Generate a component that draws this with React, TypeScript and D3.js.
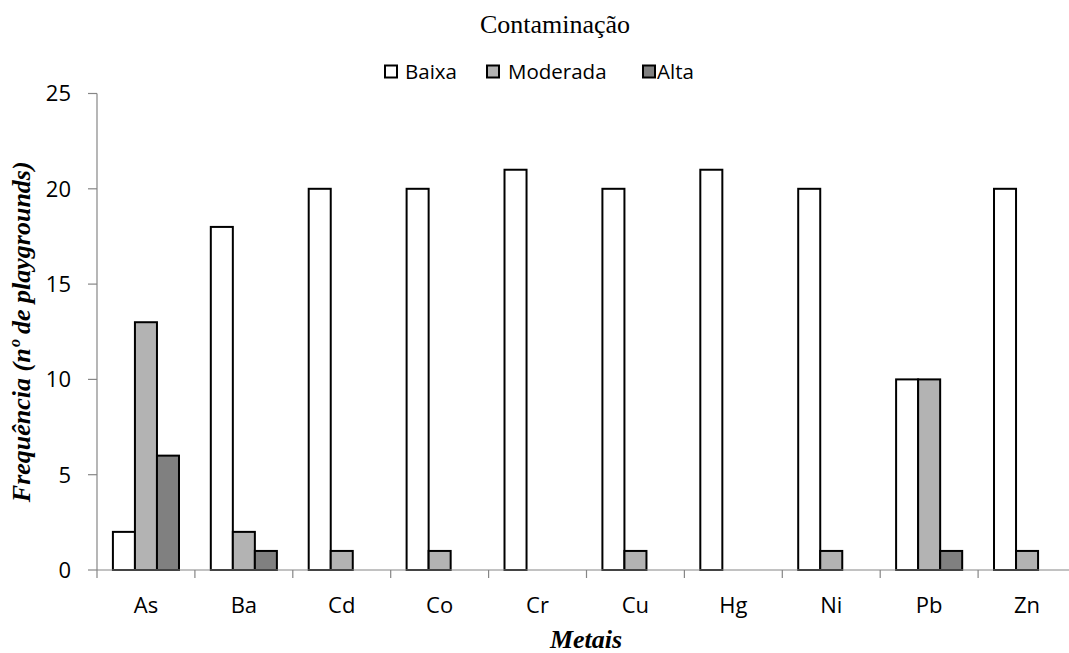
import React from "react";
import * as d3 from "d3";

const categories = ["As", "Ba", "Cd", "Co", "Cr", "Cu", "Hg", "Ni", "Pb", "Zn"];
const seriesNames = ["Baixa", "Moderada", "Alta"];
const baixa = [2, 18, 20, 20, 21, 20, 21, 20, 10, 20];
const moderada = [13, 2, 1, 1, 0, 1, 0, 1, 10, 1];
const alta = [6, 1, 0, 0, 0, 0, 0, 0, 1, 0];
const yTicks = [0, 5, 10, 15, 20, 25];
const colors = ["#ffffff", "#b3b3b3", "#808080"];

const W = 1069;
const H = 653;

export default function App() {
  const seriesValues = [baixa, moderada, alta];
  const x0 = d3.scaleBand<string>().domain(categories).range([97, 1076]).padding(0);
  const bw = x0.bandwidth();
  const groupW = bw * 0.675;
  const x1 = d3
    .scaleBand<string>()
    .domain(seriesNames)
    .range([(bw - groupW) / 2, (bw + groupW) / 2])
    .padding(0);
  const y = d3.scaleLinear().domain([0, 25]).range([570, 93.5]);
  const axisColor = "#868686";
  const sans = "'Open Sans', sans-serif";
  const serif = "'Liberation Serif', 'Times New Roman', serif";

  const legendBox = [385, 487, 643];
  const legendText = [405, 508, 657];

  return (
    <svg
      width={W}
      height={H}
      style={{ position: "absolute", left: 0, top: 0, background: "#fff" }}
    >
      <rect x={0} y={0} width={W} height={H} fill="#fff" />
      <text x={555} y={33} textAnchor="middle" fontFamily={serif} fontSize={26} fill="#000">
        Contaminação
      </text>
      {seriesNames.map((s, i) => (
        <g key={s}>
          <rect
            x={legendBox[i]}
            y={65.5}
            width={12}
            height={12}
            fill={colors[i]}
            stroke="#000"
            strokeWidth={2}
          />
          <text x={legendText[i]} y={79} fontFamily={sans} fontSize={20.5} fill="#000">
            {s}
          </text>
        </g>
      ))}
      {/* bars */}
      {categories.map((c, ci) => (
        <g key={c} transform={`translate(${x0(c)},0)`}>
          {seriesNames.map((s, si) => {
            const v = seriesValues[si][ci];
            if (!v) return null;
            return (
              <rect
                key={s}
                x={x1(s)}
                y={y(v)}
                width={x1.bandwidth()}
                height={y(0) - y(v)}
                fill={colors[si]}
                stroke="#000"
                strokeWidth={2}
              />
            );
          })}
        </g>
      ))}
      {/* y axis */}
      <line x1={97} x2={97} y1={y(25)} y2={y(0)} stroke={axisColor} strokeWidth={1.2} />
      {yTicks.map((t) => (
        <g key={t}>
          <line x1={88} x2={97} y1={y(t)} y2={y(t)} stroke={axisColor} strokeWidth={1.2} />
          <text
            x={71}
            y={y(t)}
            dy="0.36em"
            textAnchor="end"
            fontFamily={sans}
            fontSize={22}
            fill="#000"
          >
            {t}
          </text>
        </g>
      ))}
      {/* x axis */}
      <line x1={97} x2={1076} y1={y(0)} y2={y(0)} stroke={axisColor} strokeWidth={1.2} />
      {categories.map((c) => (
        <g key={c}>
          <line
            x1={x0(c)}
            x2={x0(c)}
            y1={y(0)}
            y2={y(0) + 8}
            stroke={axisColor}
            strokeWidth={1.2}
          />
          <text
            x={(x0(c) as number) + bw / 2}
            y={613}
            textAnchor="middle"
            fontFamily={sans}
            fontSize={22}
            fill="#000"
          >
            {c}
          </text>
        </g>
      ))}
      <text
        x={586}
        y={648}
        textAnchor="middle"
        fontFamily={serif}
        fontSize={26}
        fontWeight="bold"
        fontStyle="italic"
        fill="#000"
      >
        Metais
      </text>
      <text
        transform={`translate(30,${(y(0) + y(25)) / 2}) rotate(-90)`}
        textAnchor="middle"
        fontFamily={serif}
        fontSize={26}
        fontWeight="bold"
        fontStyle="italic"
        fill="#000"
      >
        Frequência (nº de playgrounds)
      </text>
    </svg>
  );
}
